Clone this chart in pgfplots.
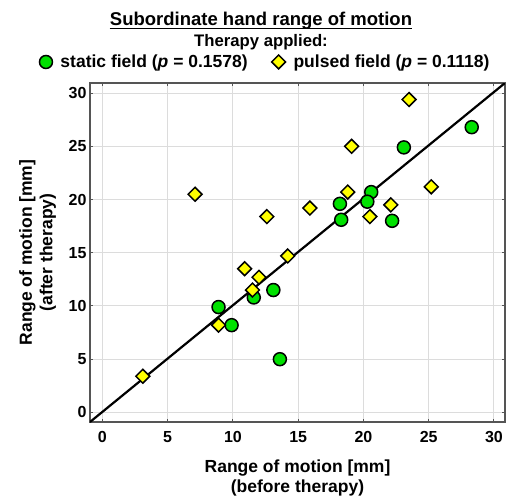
\documentclass[border=0pt]{standalone}
\usepackage{fontspec}
\setmainfont{Liberation Sans}
\usepackage{pgfplots}
\pgfplotsset{compat=1.18}
\definecolor{ptgreen}{RGB}{0,225,0}
\definecolor{ptyellow}{RGB}{255,255,0}
\definecolor{gridgray}{RGB}{220,220,220}
\definecolor{axgray}{RGB}{85,85,85}

\begin{document}
\begin{tikzpicture}
\useasboundingbox (-90pt,-77pt) rectangle (417pt,422pt);
\begin{axis}[
  at={(0pt,0pt)}, anchor=south west,
  scale only axis, width=415pt, height=339pt,
  xmin=-0.95, xmax=30.85, ymin=-0.9, ymax=30.95,
  xtick={0,5,...,30}, ytick={0,5,...,30},
  grid=major, grid style={gridgray, line width=1pt},
  axis line style={axgray, line width=1.6pt},
  tick align=inside, major tick length=3pt,
  tick style={axgray, line width=1pt},
  /pgf/number format/assume math mode=true,
  tick label style={font=\fontsize{16}{16}\selectfont\bfseries},
  xticklabel style={yshift=-6pt},
  xlabel={Range of motion [mm]\\(before therapy)},
  ylabel={Range of motion [mm]\\(after therapy)},
  label style={font=\fontsize{17.5}{20.5}\selectfont\bfseries, align=center},
  xlabel style={at={(axis description cs:0.5,-0.1652)}, anchor=center},
  ylabel style={at={(axis description cs:-0.1265,0.5)}, anchor=center},
  legend columns=2,
  legend image code/.code={\draw[#1] plot coordinates {(0pt,0pt)};},
  legend style={draw=none, fill=none, at={(axis description cs:0.4229,1.062)},
    anchor=center, font=\fontsize{17.5}{17.5}\selectfont\bfseries,
    column sep=6pt, inner sep=0pt,
    /tikz/every even column/.append style={column sep=22pt}},
]
\addplot[forget plot, black, line width=2.2pt] coordinates {(-0.95,-0.9) (30.85,30.95)};
% static field
\addplot[only marks, mark=*, mark size=6.5pt,
  mark options={draw=black, fill=ptgreen, line width=1.5pt}] coordinates {
  (28.3,26.8) (23.1,24.9) (20.6,20.7) (20.3,19.8) (18.2,19.6) (18.3,18.1)
  (22.2,18.0) (11.6,10.8) (13.1,11.5) (8.9,9.9) (9.9,8.2) (13.6,5.0)};
% pulsed field
\addplot[only marks, mark=square*, mark size=4.9pt,
  mark options={draw=black, fill=ptyellow, line width=1.5pt, rotate=45}] coordinates {
  (23.5,29.4) (19.1,25.0) (7.1,20.5) (18.8,20.7) (25.2,21.2) (15.9,19.2)
  (22.1,19.5) (12.6,18.4) (20.5,18.4) (14.2,14.7) (10.9,13.5) (12.0,12.7)
  (11.5,11.5) (8.9,8.2) (3.1,3.4)};
\legend{static field (\textit{p} = 0.1578), pulsed field (\textit{p} = 0.1118)}
\end{axis}
\node[anchor=base, inner sep=0pt, font=\fontsize{18.5}{18.5}\selectfont\bfseries]
  (t) at (171pt,396pt) {Subordinate hand range of motion};
\draw[line width=1.3pt] ([yshift=-2.4pt]t.base west) -- ([yshift=-2.4pt]t.base east);
\node[anchor=base, inner sep=0pt, font=\fontsize{16.7}{16.7}\selectfont\bfseries]
  at (171pt,375.3pt) {Therapy applied:};
\end{tikzpicture}
\end{document}
